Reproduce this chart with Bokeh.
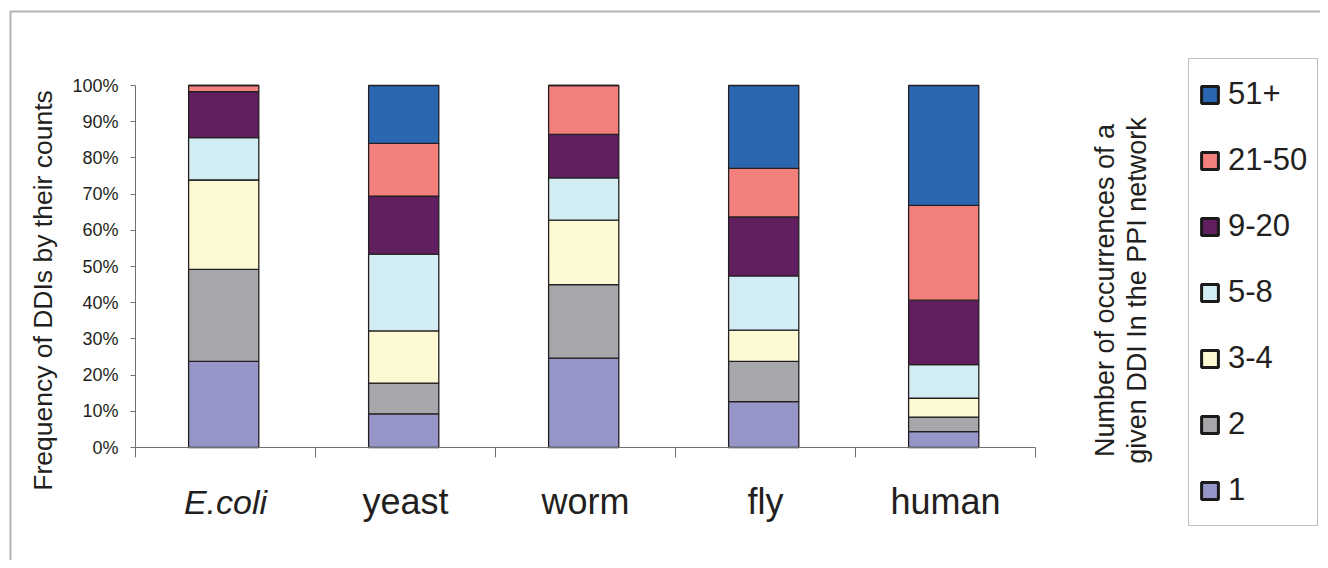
import math
from bokeh.plotting import figure
from bokeh.models import (ColumnDataSource, FixedTicker, Legend, LegendItem, Label,
                          BoxAnnotation, Range1d)
from bokeh.embed import file_html
from bokeh.resources import INLINE

# ---- data ----
categories = ["E.coli", "yeast", "worm", "fly", "human"]
bins = ["1", "2", "3-4", "5-8", "9-20", "21-50", "51+"]
v_1 = [23.8, 9.3, 24.7, 12.7, 4.4]
v_2 = [25.4, 8.5, 20.3, 11.1, 4.0]
v_3_4 = [24.7, 14.4, 17.8, 8.6, 5.2]
v_5_8 = [11.7, 21.2, 11.7, 15.0, 9.3]
v_9_20 = [12.7, 16.0, 12.0, 16.3, 17.8]
v_21_50 = [1.7, 14.6, 13.5, 13.4, 26.2]
v_51 = [0.0, 16.0, 0.0, 22.9, 33.1]
y_ticks = [0, 10, 20, 30, 40, 50, 60, 70, 80, 90, 100]
y_tick_labels = ["0%", "10%", "20%", "30%", "40%", "50%", "60%", "70%", "80%", "90%", "100%"]
y_title = "Frequency of DDIs by their counts"
legend_title = ["Number of occurrences of a", "given DDI In the PPI network"]

colors = ["#9696c8", "#a6a7aa", "#fdf9d2", "#d3edf4", "#621f5f", "#f4807e", "#2b66b1"]
FONT = "Liberation Sans"
TXT = "#231f20"
AX = "#707070"

# ---- layout (pixel geometry of the canvas) ----
W, H = 1320, 560
X0, XSTEP = 135.0, 180.0      # pixel of x=0 and pixels per category
Y0, YTOP = 447.0, 85.0        # pixel of 0% and 100%
YSCALE = (Y0 - YTOP) / 100.0


def xd(px):
    return (px - X0) / XSTEP


def yd(py):
    return (Y0 - py) / YSCALE


src = ColumnDataSource(dict(
    x=[i + 0.49 for i in range(len(categories))],
    **{b: v for b, v in zip(bins, [v_1, v_2, v_3_4, v_5_8, v_9_20, v_21_50, v_51])}
))

p = figure(width=W, height=H, output_backend="svg", toolbar_location=None,
           x_range=Range1d(xd(0), xd(W)), y_range=Range1d(yd(H), yd(0)),
           min_border=0, min_border_left=0, min_border_right=0,
           min_border_top=0, min_border_bottom=0)
p.outline_line_color = None
p.grid.visible = False
p.background_fill_color = "white"
p.border_fill_color = "white"

p.vbar_stack(bins, x="x", width=0.39, source=src, fill_color=colors,
             line_color="#231f20", line_width=1.3)

# y axis (drawn at x = 0)
p.yaxis.fixed_location = 0
p.yaxis.bounds = (0, 100)
p.yaxis.ticker = FixedTicker(ticks=y_ticks, minor_ticks=[])
p.yaxis.major_label_overrides = {t: l for t, l in zip(y_ticks, y_tick_labels)}
p.yaxis.major_label_text_font = FONT
p.yaxis.major_label_text_font_size = "18px"
p.yaxis.major_label_text_color = TXT
p.yaxis.major_tick_out = 5
p.yaxis.major_tick_in = 0
p.yaxis.major_label_standoff = 12
p.yaxis.axis_line_color = AX
p.yaxis.major_tick_line_color = AX

# x axis (drawn at y = 0), ticks on category boundaries
p.xaxis.fixed_location = 0
p.xaxis.bounds = (0, len(categories))
p.xaxis.ticker = FixedTicker(ticks=[], minor_ticks=list(range(len(categories) + 1)))
p.xaxis.minor_tick_out = 10
p.xaxis.minor_tick_in = 0
p.xaxis.minor_tick_line_color = AX
p.xaxis.major_tick_line_color = AX
p.xaxis.axis_line_color = AX

# y axis title
p.add_layout(Label(x=xd(42), y=yd(290), text=y_title, angle=math.pi / 2,
                   text_align="center", text_baseline="middle",
                   text_font=FONT, text_font_size="26.5px", text_color=TXT))

# category labels
for i, c in enumerate(categories):
    italic = c == "E.coli"
    p.add_layout(Label(x=i + 0.5, y=yd(501), text=c,
                       text_align="center", text_baseline="alphabetic",
                       text_font=FONT, text_font_size="34px" if italic else "36px",
                       text_color=TXT, text_font_style="italic" if italic else "normal"))

# legend title (rotated)
for t, cx in zip(legend_title, [1104, 1136]):
    p.add_layout(Label(x=xd(cx), y=yd(290), text=t,
                       angle=math.pi / 2, text_align="center", text_baseline="middle",
                       text_font=FONT, text_font_size="27px", text_color=TXT))

# legend (proxy renderers with thick outlines, nothing drawn in the plot)
dummies = []
for b, c in zip(bins, colors):
    r = p.vbar(x=[float("nan")], top=[float("nan")], width=0.1, fill_color=c,
               line_color="#1a1a1a", line_width=3)
    dummies.append((b, r))
items = [LegendItem(label=b, renderers=[r]) for b, r in reversed(dummies)]
legend = Legend(items=items, location=(1188, H - 526), orientation="vertical", margin=0,
                padding=10, spacing=16, label_height=50, glyph_height=21, glyph_width=21,
                label_standoff=8, label_text_font=FONT, label_text_font_size="31px",
                label_text_color=TXT, border_line_color="#808080", border_line_width=1.5,
                background_fill_color="white", background_fill_alpha=1.0)
p.add_layout(legend)

# outer frame of the figure
p.add_layout(BoxAnnotation(left=xd(10), right=xd(W + 50), top=yd(11), bottom=yd(H + 50),
                           fill_alpha=0, line_color="black", line_width=2))

open("out.html", "w").write(file_html(p, INLINE))
